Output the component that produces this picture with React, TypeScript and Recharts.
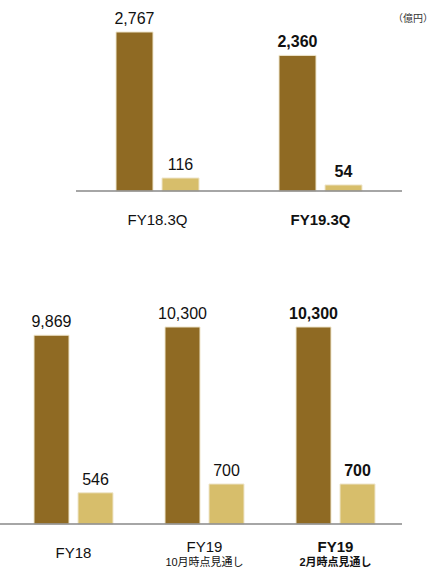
import { BarChart, Bar, XAxis, YAxis, LabelList } from 'recharts'

// Q3 cumulative (top chart)
const quarterCategories = ['FY18.3Q', 'FY19.3Q']
const quarterSales = [2767, 2360]
const quarterProfit = [116, 54]

// full year (bottom chart)
const yearCategories = ['FY18', 'FY19', 'FY19']
const yearSubLabels = ['', '10月時点見通し', '2月時点見通し']
const yearSales = [9869, 10300, 10300]
const yearProfit = [546, 700, 700]

const DARK = '#8F6A23'
const LIGHT = '#D7BE6B'
const EDGE = '#EFE6CC'
const FONT = '"Liberation Sans", Arial, "Noto Sans CJK JP", sans-serif'

const quarterData = quarterCategories.map((name, i) => ({
  name,
  sales: quarterSales[i],
  profit: quarterProfit[i],
}))

const yearData = yearCategories.map((name, i) => ({
  name,
  sub: yearSubLabels[i],
  sales: yearSales[i],
  profit: yearProfit[i],
}))

const fmt = (v: number) => v.toLocaleString('en-US')

// bold marks the latest period (last category)
function makeValueLabel(boldIndex: number) {
  return (props: any) => {
    const { x, y, width, value, index } = props
    const bold = index === boldIndex
    return (
      <text
        x={x + width / 2}
        y={y - 8}
        textAnchor="middle"
        fontFamily={FONT}
        fontSize={16}
        fontWeight={bold ? 'bold' : 'normal'}
        fill="#111"
      >
        {fmt(value)}
      </text>
    )
  }
}

// tick y already includes tickSize + tickMargin (8px) below the axis line
function makeTick(boldIndex: number, subs?: string[]) {
  return (props: any) => {
    const { x, y, payload, index } = props
    const bold = index === boldIndex
    const sub = subs ? subs[index] : ''
    const base = y - 8
    return (
      <g>
        <text
          x={x}
          y={sub ? base + 28 : base + 34}
          textAnchor="middle"
          fontFamily={FONT}
          fontSize={15}
          fontWeight={bold ? 'bold' : 'normal'}
          fill="#111"
        >
          {payload.value}
        </text>
        {sub ? (
          <text
            x={x}
            y={base + 42}
            textAnchor="middle"
            fontFamily={FONT}
            fontSize={11}
            fontWeight={bold ? 'bold' : 'normal'}
            fill="#111"
          >
            {sub}
          </text>
        ) : null}
      </g>
    )
  }
}

export default function App() {
  return (
    <div style={{ position: 'absolute', left: 0, top: 0, width: 434, height: 568, background: '#fff', fontFamily: FONT }}>
      <span style={{ position: 'absolute', left: 393, top: 10, fontSize: 10, color: '#333', whiteSpace: 'nowrap' }}>
        （億円）
      </span>

      <div style={{ position: 'absolute', left: 0, top: 0 }}>
        <BarChart
          width={434}
          height={240}
          data={quarterData}
          margin={{ top: 12, right: 32, bottom: 0, left: 76 }}
          barSize={37}
          barGap={9}
        >
          <XAxis
            dataKey="name"
            height={49}
            tickLine={false}
            axisLine={{ stroke: '#888', strokeWidth: 1.5 }}
            tick={makeTick(1)}
            interval={0}
          />
          <YAxis yAxisId="sales" hide domain={[0, 3115]} />
          <YAxis yAxisId="profit" hide domain={[0, 1597]} />
          <Bar yAxisId="sales" dataKey="sales" fill={DARK} stroke={EDGE} strokeWidth={1} isAnimationActive={false}>
            <LabelList dataKey="sales" content={makeValueLabel(1)} />
          </Bar>
          <Bar yAxisId="profit" dataKey="profit" fill={LIGHT} stroke={EDGE} strokeWidth={1} isAnimationActive={false}>
            <LabelList dataKey="profit" content={makeValueLabel(1)} />
          </Bar>
        </BarChart>
      </div>

      <div style={{ position: 'absolute', left: 0, top: 0 }}>
        <BarChart
          width={434}
          height={568}
          data={yearData}
          margin={{ top: 305, right: 32, bottom: 0, left: 0 }}
          barSize={35}
          barGap={9}
        >
          <XAxis
            dataKey="name"
            height={44}
            padding={{ left: 8, right: 1 }}
            tickLine={false}
            axisLine={{ stroke: '#888', strokeWidth: 1.5 }}
            tick={makeTick(2, yearSubLabels)}
            interval={0}
          />
          <YAxis yAxisId="sales" hide domain={[0, 11450]} />
          <YAxis yAxisId="profit" hide domain={[0, 3832]} />
          <Bar yAxisId="sales" dataKey="sales" fill={DARK} stroke={EDGE} strokeWidth={1} isAnimationActive={false}>
            <LabelList dataKey="sales" content={makeValueLabel(2)} />
          </Bar>
          <Bar yAxisId="profit" dataKey="profit" fill={LIGHT} stroke={EDGE} strokeWidth={1} isAnimationActive={false}>
            <LabelList dataKey="profit" content={makeValueLabel(2)} />
          </Bar>
        </BarChart>
      </div>
    </div>
  )
}
